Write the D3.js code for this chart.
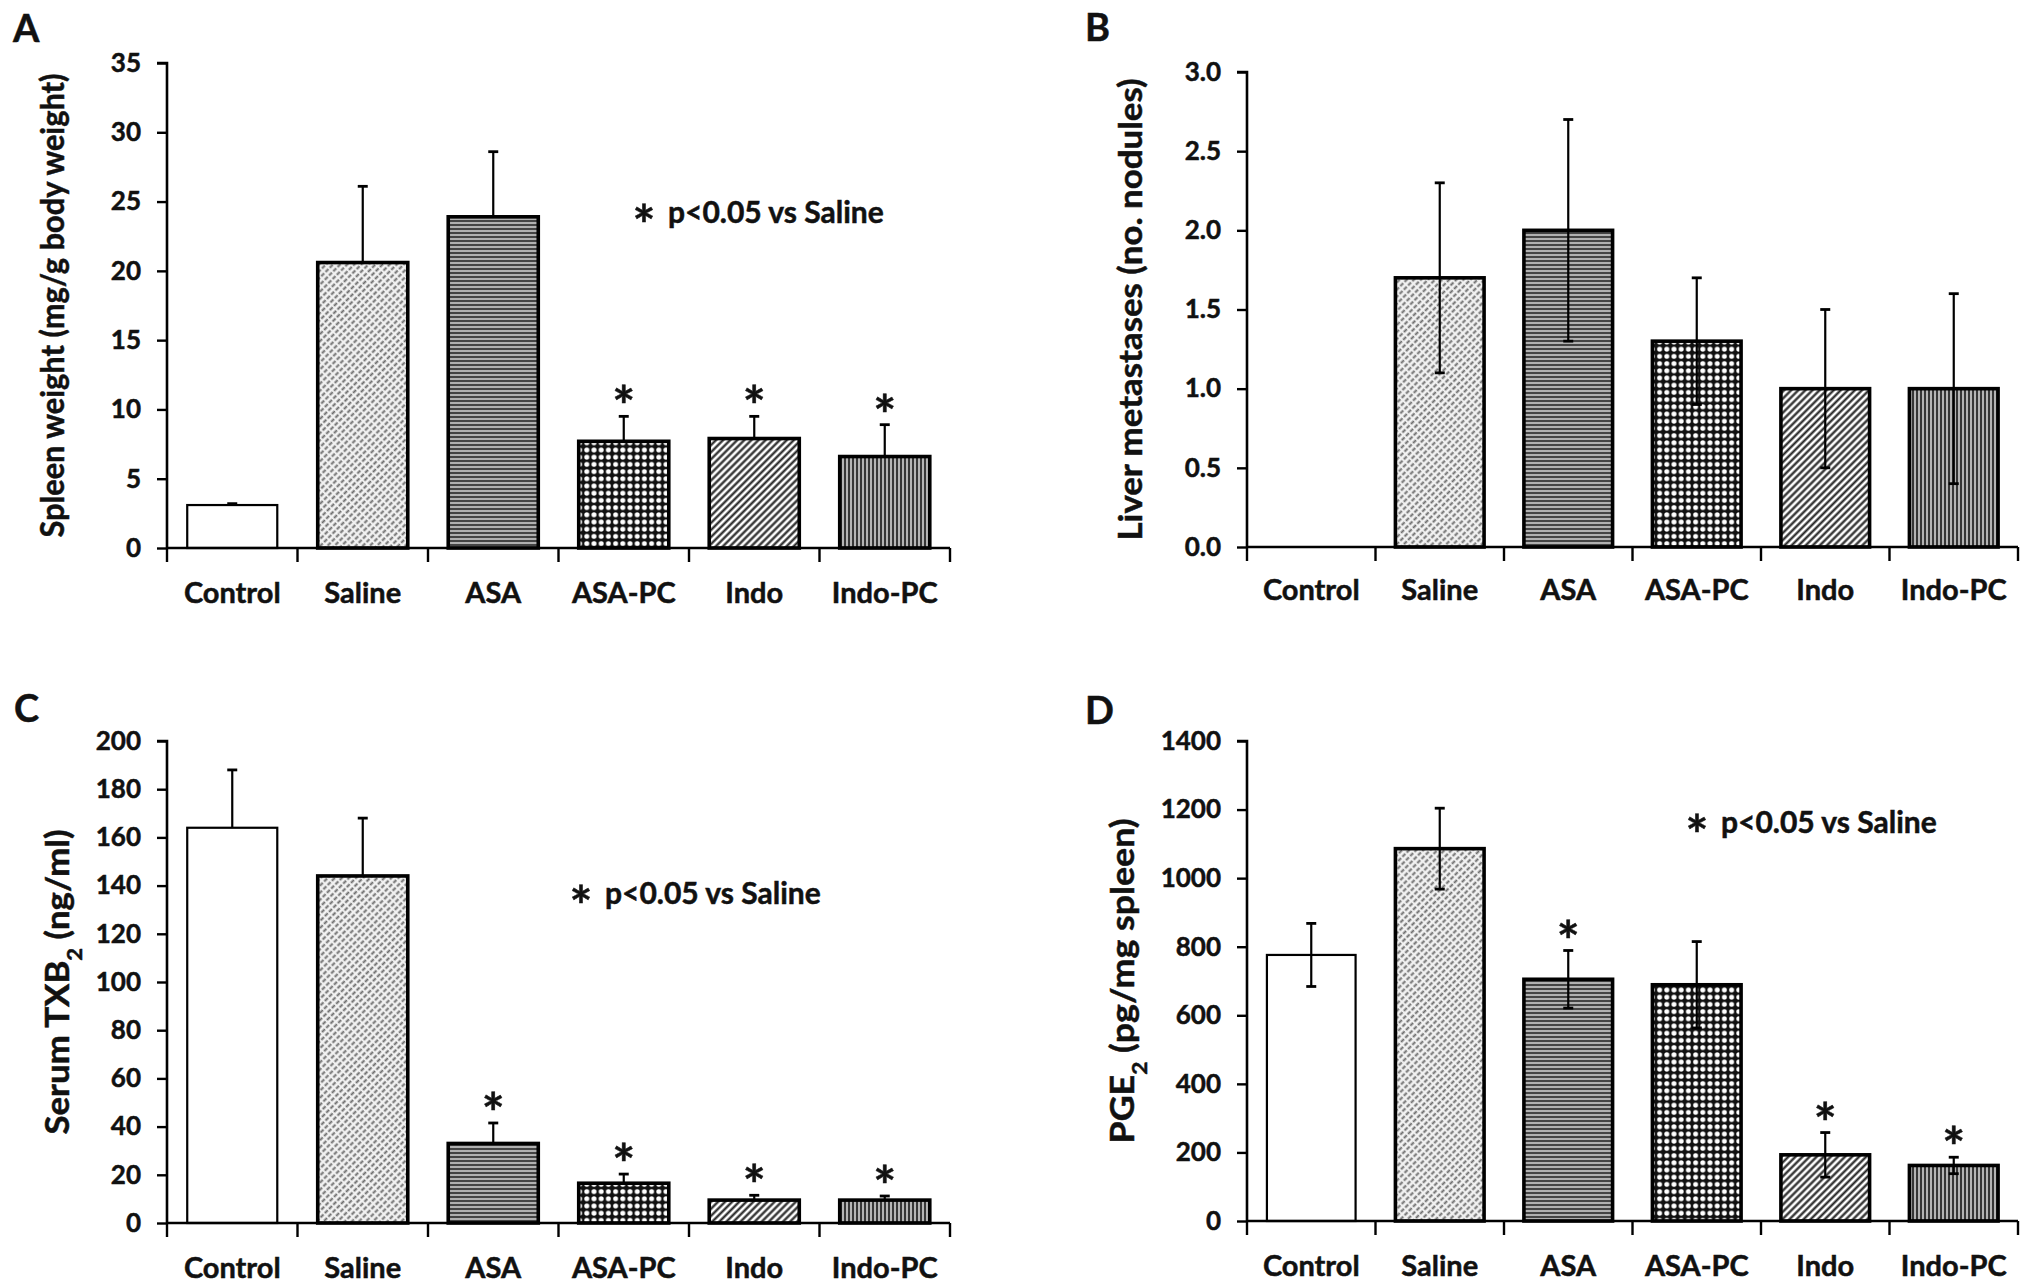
<!DOCTYPE html>
<html>
<head>
<meta charset="utf-8">
<script src="https://cdn.jsdelivr.net/npm/d3@7"></script>
<style>
  body { margin: 0; background: #fff; }
  svg text { font-family: "Lato", "Open Sans", sans-serif; font-weight: 700; fill: #111; stroke: #111; stroke-width: 0.5px; }
</style>
</head>
<body>
<div id="chart"></div>
<script>
// data
const categories = ["Control", "Saline", "ASA", "ASA-PC", "Indo", "Indo-PC"];

const spleenMean = [3.1, 20.6, 23.9, 7.7, 7.9, 6.6];
const spleenErr  = [0.1, 5.5, 4.7, 1.8, 1.6, 2.3];
const spleenSig  = ["ASA-PC", "Indo", "Indo-PC"];

const liverMean = [0, 1.7, 2.0, 1.3, 1.0, 1.0];
const liverErr  = [null, 0.6, 0.7, 0.4, 0.5, 0.6];

const txbMean = [164, 144, 33, 16.5, 9.5, 9.5];
const txbErr  = [24, 24, 8.5, 3.8, 2.0, 1.7];
const txbSig  = ["ASA", "ASA-PC", "Indo", "Indo-PC"];

const pgeMean = [776, 1086, 705, 689, 193, 162];
const pgeErr  = [92, 118, 84, 126, 65, 24];
const pgeSig  = ["ASA", "Indo", "Indo-PC"];

const spleenTicks = [0, 5, 10, 15, 20, 25, 30, 35];
const liverTicks  = [0, 0.5, 1.0, 1.5, 2.0, 2.5, 3.0];
const txbTicks    = [0, 20, 40, 60, 80, 100, 120, 140, 160, 180, 200];
const pgeTicks    = [0, 200, 400, 600, 800, 1000, 1200, 1400];

const noteText = "p<0.05 vs Saline";

const width = 2031, height = 1287;

const svg = d3.select("#chart").append("svg")
    .attr("width", width)
    .attr("height", height);

svg.append("rect").attr("width", width).attr("height", height).attr("fill", "#fff");

// fill patterns, one per group
const defs = svg.append("defs");

function pat(id, w, h, rot) {
    const p = defs.append("pattern")
        .attr("id", id)
        .attr("patternUnits", "userSpaceOnUse")
        .attr("width", w)
        .attr("height", h);
    if (rot) p.attr("patternTransform", `rotate(${rot})`);
    return p;
}

// Saline: dashed diagonals, light grey look
let p = pat("p-saline", 5, 6, 45);
p.append("rect").attr("width", 5).attr("height", 6).attr("fill", "#f2f2f2");
p.append("line").attr("x1", 2.5).attr("x2", 2.5).attr("y1", 0).attr("y2", 4.2)
    .attr("stroke", "#6e6e6e").attr("stroke-width", 2);

// ASA: dense horizontal lines
p = pat("p-asa", 4, 4);
p.append("rect").attr("width", 4).attr("height", 4).attr("fill", "#b0b0b0");
p.append("rect").attr("width", 4).attr("height", 2).attr("fill", "#444");

// ASA-PC: black grid with white dots
p = pat("p-asapc", 7.2, 7.2);
p.append("rect").attr("width", 7.2).attr("height", 7.2).attr("fill", "#111");
p.append("circle").attr("cx", 3.6).attr("cy", 3.6).attr("r", 2.5).attr("fill", "#fff");

// Indo: wide diagonal lines
p = pat("p-indo", 5, 5, 45);
p.append("rect").attr("width", 5).attr("height", 5).attr("fill", "#fff");
p.append("line").attr("x1", 2.5).attr("x2", 2.5).attr("y1", 0).attr("y2", 5)
    .attr("stroke", "#222").attr("stroke-width", 2.2);

// Indo-PC: dense vertical lines
p = pat("p-indopc", 4, 4);
p.append("rect").attr("width", 4).attr("height", 4).attr("fill", "#b4b4b4");
p.append("rect").attr("width", 2).attr("height", 4).attr("fill", "#363636");

const fills = {
    "Control": "#fff",
    "Saline": "url(#p-saline)",
    "ASA": "url(#p-asa)",
    "ASA-PC": "url(#p-asapc)",
    "Indo": "url(#p-indo)",
    "Indo-PC": "url(#p-indopc)"
};

const starSize = 54;
const starLift = starSize * 0.63; // glyph centre above baseline

function drawPanel(o) {
    const g = svg.append("g");

    const x = d3.scaleBand().domain(categories).range([o.x0, o.x1]).padding(0);
    const y = d3.scaleLinear().domain([0, o.max]).range([o.base, o.top]);
    const barW = x.bandwidth() * 0.69;

    const data = categories.map((c, i) => ({ cat: c, mean: o.mean[i], err: o.err[i] }));

    // bars
    g.selectAll("rect.bar")
        .data(data.filter(d => d.mean > 0))
        .enter().append("rect")
        .attr("class", "bar")
        .attr("x", d => x(d.cat) + (x.bandwidth() - barW) / 2)
        .attr("y", d => y(d.mean))
        .attr("width", barW)
        .attr("height", d => y(0) - y(d.mean))
        .attr("fill", d => fills[d.cat])
        .attr("stroke", "#000")
        .attr("stroke-width", d => d.cat === "Control" ? 2.2 : 3.6);

    // error bars
    const eb = data.filter(d => d.err != null && d.mean > 0);
    const cx = d => x(d.cat) + x.bandwidth() / 2;
    const lo = d => o.twoSided ? d.mean - d.err : d.mean;
    g.selectAll("line.err")
        .data(eb)
        .enter().append("line")
        .attr("x1", cx).attr("x2", cx)
        .attr("y1", d => y(lo(d)))
        .attr("y2", d => y(d.mean + d.err))
        .attr("stroke", "#000").attr("stroke-width", 2.2);
    g.selectAll("line.capHi")
        .data(eb)
        .enter().append("line")
        .attr("x1", d => cx(d) - 5).attr("x2", d => cx(d) + 5)
        .attr("y1", d => y(d.mean + d.err)).attr("y2", d => y(d.mean + d.err))
        .attr("stroke", "#000").attr("stroke-width", 2.8);
    if (o.twoSided) {
        g.selectAll("line.capLo")
            .data(eb)
            .enter().append("line")
            .attr("x1", d => cx(d) - 5).attr("x2", d => cx(d) + 5)
            .attr("y1", d => y(d.mean - d.err)).attr("y2", d => y(d.mean - d.err))
            .attr("stroke", "#000").attr("stroke-width", 2.8);
    }

    // significance stars, centred ~25px above the error cap
    if (o.sig) {
        g.selectAll("text.star")
            .data(data.filter(d => o.sig.includes(d.cat)))
            .enter().append("text")
            .attr("x", cx)
            .attr("y", d => y(d.mean + d.err) - 25 + starLift)
            .attr("text-anchor", "middle")
            .style("font-size", starSize + "px")
            .text("*");
    }

    // y axis
    const yAxis = g.append("g")
        .attr("transform", `translate(${o.x0},0)`)
        .call(d3.axisLeft(y).tickValues(o.ticks).tickFormat(o.fmt).tickSize(10).tickPadding(16));
    yAxis.select(".domain").attr("stroke-width", 2.6).attr("d", `M${-10},${o.top}H0V${o.base}`);
    yAxis.selectAll(".tick line").attr("stroke-width", 2.4);
    yAxis.selectAll(".tick text").style("font-size", "26px").attr("fill", "#111");

    // x axis with ticks on the band edges
    const xAxis = g.append("g")
        .attr("transform", `translate(0,${o.base})`);
    xAxis.append("line")
        .attr("x1", o.x0).attr("x2", o.x1)
        .attr("stroke", "#000").attr("stroke-width", 2.6);
    xAxis.selectAll("line.edge")
        .data(categories.map(c => x(c)).concat([o.x1]))
        .enter().append("line")
        .attr("x1", d => d).attr("x2", d => d)
        .attr("y1", 0).attr("y2", 14)
        .attr("stroke", "#000").attr("stroke-width", 2.4);
    xAxis.selectAll("text")
        .data(categories)
        .enter().append("text")
        .attr("x", d => x(d) + x.bandwidth() / 2)
        .attr("y", o.labelDy)
        .attr("text-anchor", "middle")
        .style("font-size", "29px")
        .text(d => d);

    // y axis title
    const t = g.append("text")
        .attr("transform", `translate(${o.titleX},${(o.top + o.base) / 2}) rotate(-90)`)
        .attr("text-anchor", "middle")
        .style("font-size", "33px");
    if (o.titleLen) t.attr("textLength", o.titleLen).attr("lengthAdjust", "spacingAndGlyphs");
    o.title.forEach(part => {
        const s = t.append("tspan").text(part.t);
        if (part.sub) s.attr("baseline-shift", "sub").style("font-size", "21px");
    });

    // panel letter
    g.append("text")
        .attr("x", o.letterX).attr("y", o.letterY)
        .style("font-size", "38px")
        .text(o.letter);

    // note
    if (o.note) {
        g.append("text")
            .attr("x", o.note[0]).attr("y", o.note[1] - 4 + starLift)
            .attr("text-anchor", "middle")
            .style("font-size", starSize + "px")
            .text("*");
        g.append("text")
            .attr("x", o.note[0] + 24).attr("y", o.note[1] + 9)
            .style("font-size", "30px")
            .text(noteText);
    }
}

drawPanel({
    letter: "A", letterX: 13, letterY: 42,
    x0: 167, x1: 950, top: 63, base: 548, max: 35,
    ticks: spleenTicks, fmt: d3.format("d"),
    mean: spleenMean, err: spleenErr, twoSided: false, sig: spleenSig,
    title: [{ t: "Spleen weight (mg/g body weight)" }], titleX: 64, titleLen: 464,
    labelDy: 55, note: [644, 214]
});

drawPanel({
    letter: "B", letterX: 1085, letterY: 41,
    x0: 1247, x1: 2018, top: 72, base: 547, max: 3,
    ticks: liverTicks, fmt: d3.format(".1f"),
    mean: liverMean, err: liverErr, twoSided: true, sig: null,
    title: [{ t: "Liver metastases (no. nodules)" }], titleX: 1142, titleLen: 462,
    labelDy: 53, note: null
});

drawPanel({
    letter: "C", letterX: 14, letterY: 722,
    x0: 167, x1: 950, top: 741, base: 1223, max: 200,
    ticks: txbTicks, fmt: d3.format("d"),
    mean: txbMean, err: txbErr, twoSided: false, sig: txbSig,
    title: [{ t: "Serum TXB" }, { t: "2", sub: true }, { t: " (ng/ml)" }], titleX: 69, titleLen: 305,
    labelDy: 55, note: [581, 895]
});

drawPanel({
    letter: "D", letterX: 1085, letterY: 724,
    x0: 1247, x1: 2018, top: 741, base: 1221, max: 1400,
    ticks: pgeTicks, fmt: d3.format("d"),
    mean: pgeMean, err: pgeErr, twoSided: true, sig: pgeSig,
    title: [{ t: "PGE" }, { t: "2", sub: true }, { t: " (pg/mg spleen)" }], titleX: 1134, titleLen: 325,
    labelDy: 55, note: [1697, 824]
});
</script>
</body>
</html>
